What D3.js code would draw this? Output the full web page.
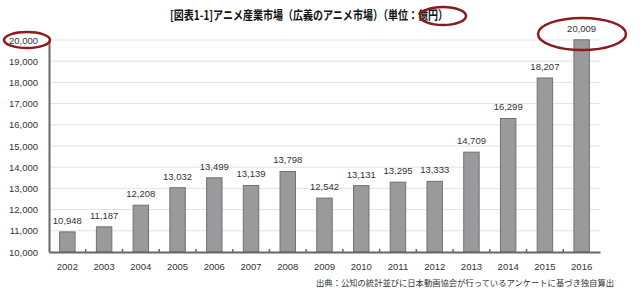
<!DOCTYPE html>
<html><head><meta charset="utf-8">
<script src="https://cdn.jsdelivr.net/npm/d3@7"></script>
<style>body{margin:0;background:#fff;} svg{display:block;}</style>
</head><body>
<script>
const years = ["2002","2003","2004","2005","2006","2007","2008","2009","2010","2011","2012","2013","2014","2015","2016"];
const values = [10948,11187,12208,13032,13499,13139,13798,12542,13131,13295,13333,14709,16299,18207,20009];
const yTicks = [10000,11000,12000,13000,14000,15000,16000,17000,18000,19000,20000];
const title = "[図表1-1]アニメ産業市場（広義のアニメ市場）（単位：億円）";
const source = "出典：公知の統計並びに日本動画協会が行っているアンケートに基づき独自算出";

const W = 640, H = 293;
const svg = d3.select("body").append("svg").attr("width", W).attr("height", H);
const x0 = 49, x1 = 600, yTop = 40, yBot = 252;
const x = d3.scaleBand().domain(years).range([x0, x1]).paddingInner(0.58).paddingOuter(0.29);
const y = d3.scaleLinear().domain([10000, 20000]).range([yBot, yTop]);
const numFont = "'Liberation Sans', Arial, sans-serif";
const jpFont = "'Noto Sans CJK JP', sans-serif";

// gridlines
svg.append("g").selectAll("line").data(yTicks.slice(1)).join("line")
  .attr("x1", x0).attr("x2", x1).attr("y1", d => y(d)).attr("y2", d => y(d))
  .attr("stroke", "#e2e2e2").attr("stroke-width", 1);

// y axis
const yAxis = svg.append("g").attr("transform", `translate(${x0},0)`)
  .call(d3.axisLeft(y).tickValues(yTicks).tickSize(0).tickPadding(11).tickFormat(d3.format(",")));
yAxis.select(".domain").attr("stroke", "#666").attr("stroke-width", 2);
yAxis.selectAll("text").attr("font-family", numFont).attr("font-size", 9.5).attr("fill", "#333");

// bars
svg.append("g").selectAll("rect").data(values).join("rect")
  .attr("x", (d, i) => x(years[i])).attr("width", x.bandwidth())
  .attr("y", d => y(d)).attr("height", d => yBot - y(d))
  .attr("fill", "#9a9a9c").attr("stroke", "#707072").attr("stroke-width", 1);

// x axis
const xAxis = svg.append("g").attr("transform", `translate(0,${yBot})`)
  .call(d3.axisBottom(x).tickSize(0).tickPadding(11));
xAxis.select(".domain").attr("stroke", "#666").attr("stroke-width", 2);
xAxis.selectAll("text").attr("font-family", numFont).attr("font-size", 9.5).attr("fill", "#333");
// small separator ticks
svg.append("g").selectAll("line").data(years.slice(0, -1)).join("line")
  .attr("x1", d => x(d) + x.bandwidth() + x.step() * x.paddingInner() / 2)
  .attr("x2", d => x(d) + x.bandwidth() + x.step() * x.paddingInner() / 2)
  .attr("y1", yBot - 3).attr("y2", yBot).attr("stroke", "#666").attr("stroke-width", 1.5);

// value labels
svg.append("g").selectAll("text").data(values).join("text")
  .attr("x", (d, i) => x(years[i]) + x.bandwidth() / 2).attr("y", d => y(d) - 8)
  .attr("text-anchor", "middle").attr("font-family", numFont).attr("font-size", 9.5).attr("fill", "#333")
  .text(d => d3.format(",")(d));

// title
svg.append("text").attr("x", 309).attr("y", 20).attr("text-anchor", "middle")
  .attr("font-family", jpFont).attr("font-weight", "bold").attr("font-size", 12.5).attr("fill", "#111")
  .attr("textLength", 278).attr("lengthAdjust", "spacingAndGlyphs")
  .text(title);

// source
svg.append("text").attr("x", 614).attr("y", 286).attr("text-anchor", "end")
  .attr("font-family", jpFont).attr("font-size", 8.3).attr("fill", "#333")
  .text(source);

// red annotation ellipses
const ell = [[27, 40, 23, 8], [443, 16, 23, 9], [582, 34, 44, 16]];
svg.append("g").selectAll("ellipse").data(ell).join("ellipse")
  .attr("cx", d => d[0]).attr("cy", d => d[1]).attr("rx", d => d[2]).attr("ry", d => d[3])
  .attr("fill", "none").attr("stroke", "#8a1c1c").attr("stroke-width", 2.5);
</script>
</body></html>
